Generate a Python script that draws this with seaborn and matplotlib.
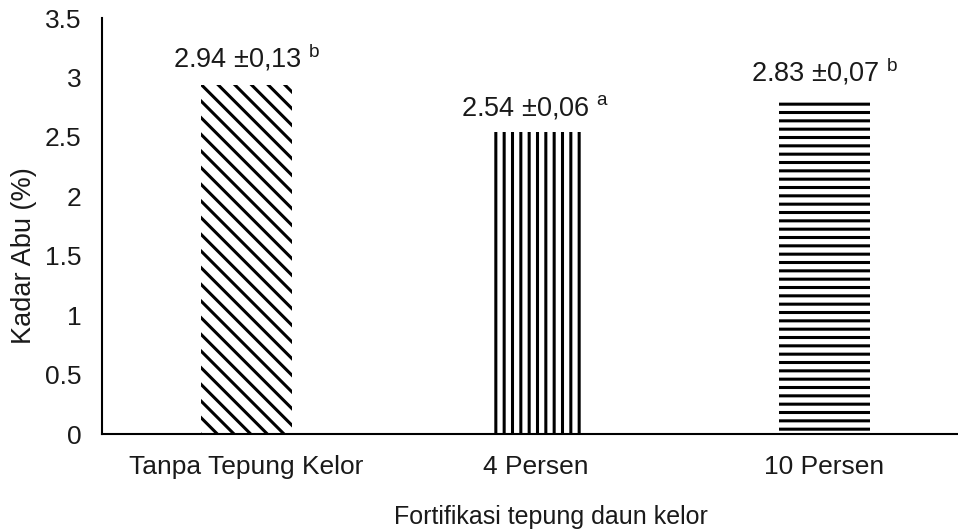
import matplotlib
matplotlib.use("Agg")
import matplotlib.pyplot as plt
import seaborn as sns
import pandas as pd

# Ash content of products fortified with moringa leaf flour
categories = ["Tanpa Tepung Kelor", "4 Persen", "10 Persen"]
means = [2.94, 2.54, 2.83]
sds = [0.13, 0.06, 0.07]
letters = ["b", "a", "b"]
hatches = ["\\\\", "||", "--"]
yticks = [0, 0.5, 1, 1.5, 2, 2.5, 3, 3.5]
ytick_labels = ["0", "0.5", "1", "1.5", "2", "2.5", "3", "3.5"]

sns.set_theme(style="white")
plt.rcParams["font.family"] = ["Liberation Sans", "DejaVu Sans"]
plt.rcParams["mathtext.fontset"] = "custom"
plt.rcParams["mathtext.rm"] = "Liberation Sans"
plt.rcParams["hatch.linewidth"] = 2.2

df = pd.DataFrame({"kategori": categories, "kadar": means})

fig = plt.figure(figsize=(9.58, 5.32), dpi=100)
ax = fig.add_axes([0.1065, 0.184, 0.905, 0.782])

sns.barplot(data=df, x="kategori", y="kadar", order=categories, color="white",
            width=0.315, edgecolor="black", linewidth=0, ax=ax)

for patch, h in zip(ax.patches, hatches):
    patch.set_hatch(h)
    patch.set_facecolor("white")
    patch.set_edgecolor("black")
    patch.set_linewidth(0)

text_color = "#1a1a1a"
for i, (m, s, lt) in enumerate(zip(means, sds, letters)):
    sd_txt = f"{s:.2f}".replace(".", ",")
    ax.annotate(f"{m:.2f} ±{sd_txt} $^{{\\mathrm{{{lt}}}}}$", xy=(i, m),
                xytext=(0, 12), textcoords="offset points",
                ha="center", va="baseline", fontsize=19.5, color=text_color)

ax.set_ylim(0, 3.5)
ax.set_xlim(-0.5, 2.5)
ax.set_yticks(yticks)
ax.set_yticklabels(ytick_labels, fontsize=19, color=text_color)
ax.tick_params(axis="x", labelsize=19, colors=text_color, length=0, pad=15)
ax.tick_params(axis="y", length=0, pad=15)
ax.set_xlabel("Fortifikasi tepung daun kelor", fontsize=18, color=text_color)
ax.xaxis.set_label_coords(0.518, -0.17)
ax.set_ylabel("Kadar Abu (%)", fontsize=19.5, color=text_color)
ax.yaxis.set_label_coords(-0.075, 0.43)

for side in ["top", "right"]:
    ax.spines[side].set_visible(False)
for side in ["left", "bottom"]:
    ax.spines[side].set_color("black")
    ax.spines[side].set_linewidth(1.5)

fig.savefig("out.png", dpi=100)
